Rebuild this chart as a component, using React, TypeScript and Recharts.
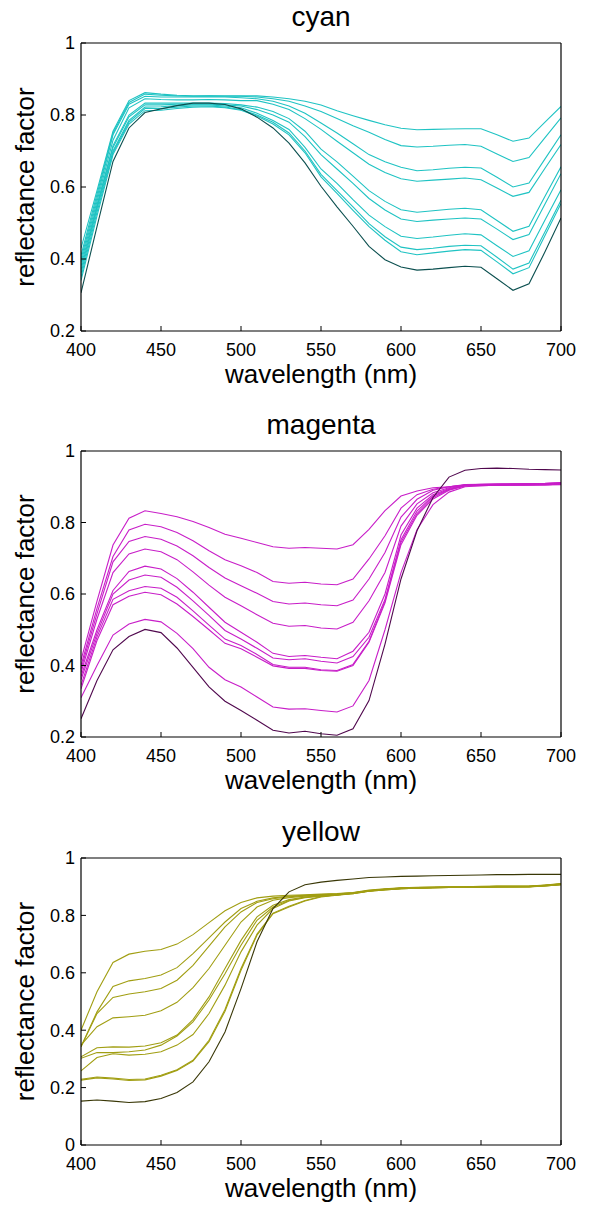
import { LineChart, Line, XAxis, YAxis, Label } from 'recharts';

const wavelengths = [
  400, 410, 420, 430, 440, 450, 460, 470, 480, 490, 500, 510, 520, 530, 540, 550,
  560, 570, 580, 590, 600, 610, 620, 630, 640, 650, 660, 670, 680, 690, 700,
];
const xTicks = [400, 450, 500, 550, 600, 650, 700];
const yTicksCM = [0.2, 0.4, 0.6, 0.8, 1];
const yTicksY = [0, 0.2, 0.4, 0.6, 0.8, 1];

// cyan tints, lightest first, darkest last
const cyanCurves: number[][] = [
  [0.43, 0.59, 0.755, 0.84, 0.862, 0.858, 0.855, 0.853, 0.853, 0.853, 0.853, 0.853, 0.85, 0.845, 0.838, 0.828, 0.812, 0.798, 0.785, 0.773, 0.763, 0.759, 0.76, 0.761, 0.762, 0.762, 0.745, 0.727, 0.736, 0.78, 0.824],
  [0.41, 0.58, 0.75, 0.835, 0.858, 0.855, 0.853, 0.852, 0.853, 0.852, 0.852, 0.85, 0.845, 0.838, 0.825, 0.81, 0.79, 0.77, 0.752, 0.732, 0.715, 0.711, 0.713, 0.716, 0.718, 0.713, 0.692, 0.671, 0.682, 0.737, 0.792],
  [0.4, 0.57, 0.745, 0.83, 0.852, 0.85, 0.85, 0.85, 0.85, 0.85, 0.848, 0.845, 0.838, 0.825, 0.805, 0.778, 0.75, 0.72, 0.69, 0.67, 0.655, 0.645, 0.648, 0.652, 0.655, 0.653, 0.627, 0.6, 0.611, 0.678, 0.745],
  [0.39, 0.56, 0.73, 0.82, 0.845, 0.843, 0.842, 0.842, 0.843, 0.842, 0.84, 0.84, 0.83, 0.815, 0.79, 0.76, 0.727, 0.695, 0.663, 0.64, 0.623, 0.616, 0.619, 0.622, 0.625, 0.62, 0.597, 0.574, 0.585, 0.652, 0.718],
  [0.38, 0.55, 0.715, 0.8, 0.833, 0.833, 0.833, 0.833, 0.833, 0.832, 0.828, 0.822, 0.81, 0.79, 0.755, 0.705, 0.67, 0.63, 0.59, 0.56, 0.537, 0.53, 0.534, 0.538, 0.541, 0.537, 0.507, 0.477, 0.491, 0.574, 0.656],
  [0.37, 0.545, 0.71, 0.795, 0.828, 0.828, 0.83, 0.83, 0.83, 0.828, 0.825, 0.815, 0.8, 0.78, 0.74, 0.69, 0.65, 0.61, 0.568, 0.536, 0.511, 0.504, 0.508, 0.511, 0.514, 0.511, 0.483, 0.454, 0.468, 0.553, 0.637],
  [0.36, 0.54, 0.7, 0.785, 0.822, 0.823, 0.826, 0.828, 0.828, 0.825, 0.82, 0.805, 0.785, 0.76, 0.71, 0.65, 0.61, 0.565, 0.522, 0.49, 0.463, 0.457, 0.461, 0.466, 0.47, 0.467, 0.437, 0.407, 0.423, 0.508, 0.592],
  [0.35, 0.53, 0.695, 0.78, 0.818, 0.818, 0.822, 0.825, 0.825, 0.822, 0.815, 0.8, 0.78, 0.75, 0.7, 0.635, 0.59, 0.545, 0.498, 0.462, 0.433, 0.426, 0.43, 0.435, 0.438, 0.437, 0.405, 0.372, 0.389, 0.476, 0.563],
  [0.34, 0.52, 0.69, 0.775, 0.812, 0.813, 0.818, 0.822, 0.823, 0.82, 0.813, 0.797, 0.775, 0.745, 0.695, 0.628, 0.582, 0.535, 0.49, 0.452, 0.42, 0.412, 0.417, 0.422, 0.426, 0.424, 0.392, 0.359, 0.376, 0.465, 0.554],
  [0.306, 0.49, 0.671, 0.764, 0.807, 0.817, 0.826, 0.833, 0.833, 0.829, 0.817, 0.794, 0.764, 0.722, 0.667, 0.602, 0.545, 0.491, 0.435, 0.398, 0.378, 0.369, 0.372, 0.376, 0.38, 0.377, 0.345, 0.313, 0.331, 0.42, 0.514],
];

const magentaCurves: number[][] = [
  [0.415, 0.58, 0.737, 0.812, 0.833, 0.825, 0.816, 0.803, 0.786, 0.767, 0.756, 0.744, 0.732, 0.728, 0.73, 0.728, 0.726, 0.738, 0.781, 0.833, 0.874, 0.888, 0.897, 0.9, 0.905, 0.907, 0.908, 0.908, 0.909, 0.91, 0.912],
  [0.4, 0.56, 0.705, 0.779, 0.795, 0.788, 0.772, 0.749, 0.721, 0.696, 0.679, 0.66, 0.635, 0.63, 0.633, 0.628, 0.626, 0.642, 0.698, 0.763, 0.84, 0.878, 0.893, 0.9, 0.905, 0.906, 0.907, 0.907, 0.908, 0.909, 0.911],
  [0.39, 0.545, 0.69, 0.747, 0.761, 0.753, 0.734, 0.707, 0.674, 0.645, 0.623, 0.602, 0.579, 0.572, 0.575, 0.57, 0.567, 0.583, 0.642, 0.716, 0.815, 0.865, 0.89, 0.9, 0.906, 0.907, 0.907, 0.908, 0.908, 0.909, 0.91],
  [0.38, 0.53, 0.66, 0.712, 0.726, 0.718, 0.696, 0.662, 0.625, 0.591, 0.567, 0.542, 0.518, 0.51, 0.512, 0.505, 0.502, 0.521, 0.581, 0.66, 0.79, 0.852, 0.883, 0.897, 0.905, 0.906, 0.906, 0.907, 0.907, 0.908, 0.909],
  [0.37, 0.5, 0.61, 0.663, 0.678, 0.67, 0.643, 0.605, 0.563, 0.521, 0.493, 0.465, 0.434, 0.425, 0.428, 0.423, 0.419, 0.44, 0.493, 0.6, 0.765, 0.84, 0.878, 0.895, 0.904, 0.905, 0.905, 0.906, 0.906, 0.907, 0.908],
  [0.36, 0.49, 0.6, 0.639, 0.653, 0.647, 0.619, 0.581, 0.54, 0.498, 0.474, 0.448, 0.421, 0.416, 0.419, 0.412, 0.407, 0.425, 0.479, 0.585, 0.752, 0.832, 0.874, 0.893, 0.903, 0.904, 0.905, 0.905, 0.906, 0.906, 0.907],
  [0.345, 0.48, 0.585, 0.609, 0.621, 0.616, 0.591, 0.553, 0.513, 0.474, 0.456, 0.431, 0.403, 0.395, 0.395, 0.388, 0.386, 0.403, 0.468, 0.58, 0.745, 0.825, 0.87, 0.892, 0.903, 0.904, 0.904, 0.905, 0.905, 0.906, 0.907],
  [0.335, 0.47, 0.57, 0.594, 0.605, 0.598, 0.572, 0.537, 0.5, 0.462, 0.447, 0.423, 0.399, 0.392, 0.392, 0.386, 0.384, 0.4, 0.465, 0.575, 0.738, 0.82, 0.866, 0.89, 0.902, 0.903, 0.904, 0.904, 0.905, 0.905, 0.906],
  [0.31, 0.4, 0.485, 0.516, 0.529, 0.522, 0.49, 0.447, 0.395, 0.36, 0.34, 0.312, 0.284, 0.278, 0.279, 0.274, 0.27, 0.287, 0.358, 0.5, 0.66, 0.78, 0.85, 0.885, 0.9, 0.903, 0.904, 0.905, 0.905, 0.906, 0.907],
  [0.251, 0.358, 0.444, 0.481, 0.501, 0.492, 0.449, 0.395, 0.34, 0.3, 0.274, 0.247, 0.219, 0.211, 0.216, 0.209, 0.205, 0.223, 0.302, 0.46, 0.642, 0.777, 0.87, 0.927, 0.946, 0.951, 0.952, 0.951, 0.949, 0.948, 0.947],
];

const yellowCurves: number[][] = [
  [0.4, 0.534, 0.636, 0.665, 0.675, 0.681, 0.7, 0.733, 0.775, 0.816, 0.845, 0.861, 0.867, 0.87, 0.872, 0.874, 0.876, 0.88, 0.888, 0.893, 0.896, 0.898, 0.899, 0.9, 0.9, 0.901, 0.902, 0.902, 0.902, 0.906, 0.911],
  [0.342, 0.464, 0.552, 0.572, 0.58, 0.592, 0.618, 0.667, 0.722, 0.777, 0.824, 0.849, 0.861, 0.867, 0.87, 0.873, 0.875, 0.879, 0.887, 0.892, 0.895, 0.897, 0.898, 0.899, 0.899, 0.9, 0.901, 0.901, 0.901, 0.905, 0.91],
  [0.342, 0.458, 0.514, 0.526, 0.534, 0.545, 0.574, 0.626, 0.693, 0.76, 0.812, 0.845, 0.858, 0.865, 0.869, 0.872, 0.874, 0.879, 0.886, 0.891, 0.895, 0.897, 0.898, 0.899, 0.899, 0.9, 0.901, 0.901, 0.901, 0.905, 0.909],
  [0.348, 0.412, 0.443, 0.447, 0.452, 0.468, 0.497, 0.548, 0.615, 0.696, 0.777, 0.829, 0.853, 0.862, 0.867, 0.871, 0.873, 0.878, 0.886, 0.891, 0.894, 0.896, 0.897, 0.898, 0.899, 0.9, 0.9, 0.9, 0.901, 0.904, 0.909],
  [0.307, 0.339, 0.342, 0.341, 0.345, 0.356, 0.383, 0.437, 0.516, 0.615, 0.713, 0.795, 0.835, 0.855, 0.864, 0.869, 0.872, 0.877, 0.885, 0.89, 0.894, 0.896, 0.897, 0.898, 0.898, 0.899, 0.9, 0.9, 0.9, 0.904, 0.908],
  [0.302, 0.322, 0.322, 0.325, 0.331, 0.348, 0.38, 0.429, 0.505, 0.597, 0.696, 0.783, 0.829, 0.852, 0.863, 0.868, 0.871, 0.877, 0.885, 0.89, 0.893, 0.895, 0.897, 0.897, 0.898, 0.899, 0.899, 0.9, 0.9, 0.903, 0.908],
  [0.258, 0.305, 0.318, 0.313, 0.316, 0.325, 0.348, 0.385, 0.458, 0.557, 0.673, 0.766, 0.824, 0.85, 0.862, 0.867, 0.871, 0.876, 0.884, 0.889, 0.893, 0.895, 0.896, 0.897, 0.898, 0.898, 0.899, 0.899, 0.9, 0.903, 0.907],
  [0.226, 0.234, 0.23, 0.225, 0.227, 0.24, 0.26, 0.292, 0.36, 0.466, 0.609, 0.731, 0.806, 0.829, 0.85, 0.864, 0.87, 0.876, 0.884, 0.889, 0.893, 0.895, 0.896, 0.897, 0.897, 0.898, 0.899, 0.899, 0.899, 0.903, 0.907],
  [0.229, 0.237, 0.233, 0.228, 0.23, 0.243, 0.262, 0.295, 0.365, 0.472, 0.615, 0.735, 0.808, 0.832, 0.852, 0.866, 0.871, 0.877, 0.885, 0.89, 0.894, 0.896, 0.897, 0.898, 0.898, 0.899, 0.9, 0.9, 0.9, 0.904, 0.908],
  [0.153, 0.157, 0.153, 0.148, 0.151, 0.162, 0.183, 0.22, 0.29, 0.394, 0.545, 0.708, 0.824, 0.882, 0.907, 0.916, 0.922, 0.927, 0.932, 0.934, 0.936, 0.937, 0.938, 0.939, 0.94, 0.941, 0.942, 0.942, 0.943, 0.943, 0.943],
];

const FONT = '"Liberation Sans", Arial, Helvetica, sans-serif';

const buildRows = (curves: number[][]) =>
  wavelengths.map((wl, i) => {
    const row: Record<string, number> = { wl };
    curves.forEach((c, k) => {
      row['s' + k] = c[i];
    });
    return row;
  });

interface PanelProps {
  title: string;
  curves: number[][];
  light: string;
  dark: string;
  yTicks: number[];
  top: number;
  height: number;
  plotTop: number;
  plotHeight: number;
}

const Panel = ({ title, curves, light, dark, yTicks, top, height, plotTop, plotHeight }: PanelProps) => {
  const data = buildRows(curves);
  const yDomain = [yTicks[0], yTicks[yTicks.length - 1]];
  const axisH = 60;
  // top axis and right axis are 1px thick boxes, they close the frame
  const bottom = height - plotTop - plotHeight - axisH;
  const tickStyle = { fill: '#000', fontSize: 18, fontFamily: FONT };
  const frame = { stroke: '#000', strokeWidth: 1.2 };

  return (
    <div style={{ position: 'absolute', left: 0, top }}>
      <LineChart width={592} height={height} data={data} margin={{ top: plotTop - 1, right: 30, bottom, left: 0 }}>
        <XAxis
          dataKey='wl'
          type='number'
          domain={[400, 700]}
          ticks={xTicks}
          allowDataOverflow
          height={axisH}
          tickSize={-5}
          tickMargin={17}
          tick={tickStyle}
          axisLine={frame}
          tickLine={{ stroke: '#000' }}
        >
          <Label
            content={(p: any) => (
              <text x={p.viewBox.x + p.viewBox.width / 2} y={p.viewBox.y + 52} textAnchor='middle' fontSize={26} fontFamily={FONT} fill='#000'>
                wavelength (nm)
              </text>
            )}
          />
        </XAxis>
        <XAxis
          xAxisId='top'
          dataKey='wl'
          orientation='top'
          type='number'
          domain={[400, 700]}
          ticks={xTicks}
          allowDataOverflow
          height={1}
          tick={false}
          tickSize={-5}
          axisLine={frame}
          tickLine={{ stroke: '#000' }}
        >
          <Label
            content={(p: any) => (
              <text x={p.viewBox.x + p.viewBox.width / 2} y={p.viewBox.y + 1 - 17} textAnchor='middle' fontSize={28} fontFamily={FONT} fill='#000'>
                {title}
              </text>
            )}
          />
        </XAxis>
        <YAxis
          type='number'
          domain={yDomain}
          ticks={yTicks}
          allowDataOverflow
          width={81}
          tickSize={-5}
          tickMargin={11}
          tick={tickStyle}
          tickFormatter={(v: number) => String(v)}
          axisLine={frame}
          tickLine={{ stroke: '#000' }}
        >
          <Label
            content={(p: any) => {
              const cx = 34;
              const cy = p.viewBox.y + p.viewBox.height / 2;
              return (
                <text x={cx} y={cy} transform={`rotate(-90, ${cx}, ${cy})`} textAnchor='middle' fontSize={26} fontFamily={FONT} fill='#000'>
                  reflectance factor
                </text>
              );
            }}
          />
        </YAxis>
        <YAxis
          yAxisId='right'
          orientation='right'
          type='number'
          domain={yDomain}
          ticks={yTicks}
          allowDataOverflow
          width={1}
          tick={false}
          tickSize={-5}
          axisLine={frame}
          tickLine={{ stroke: '#000' }}
        />
        {curves.map((_, k) => (
          <Line
            key={k}
            type='linear'
            dataKey={'s' + k}
            stroke={k === curves.length - 1 ? dark : light}
            strokeWidth={1.1}
            dot={false}
            isAnimationActive={false}
          />
        ))}
      </LineChart>
    </div>
  );
};

const App = () => (
  <div style={{ position: 'absolute', left: 0, top: 0, width: 592, height: 1207, background: '#fff' }}>
    <Panel title='cyan' curves={cyanCurves} light='#1fc3c3' dark='#0b4f4f' yTicks={yTicksCM} top={0} height={400} plotTop={43} plotHeight={288} />
    <Panel title='magenta' curves={magentaCurves} light='#c81ec8' dark='#50084e' yTicks={yTicksCM} top={400} height={400} plotTop={51} plotHeight={286} />
    <Panel title='yellow' curves={yellowCurves} light='#a19e12' dark='#393706' yTicks={yTicksY} top={800} height={407} plotTop={58} plotHeight={287} />
  </div>
);

export default App;
